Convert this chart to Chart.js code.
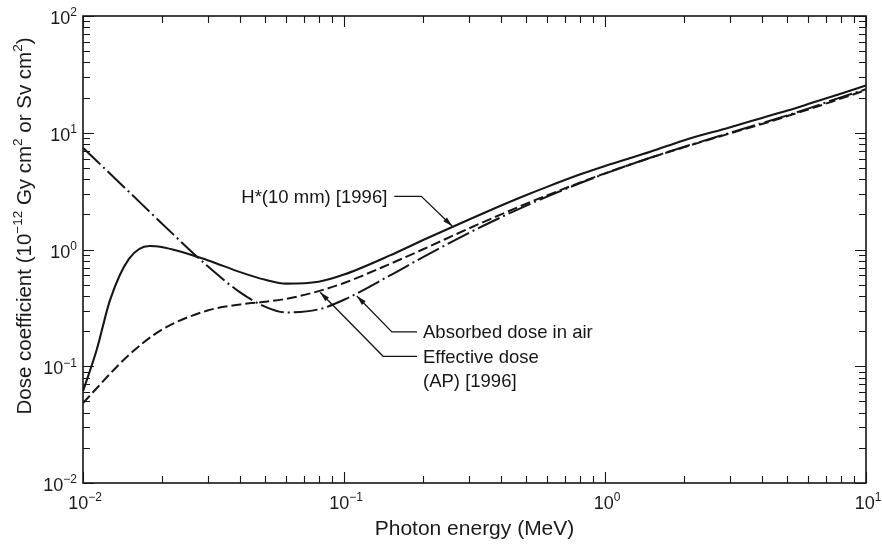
<!DOCTYPE html>
<html><head><meta charset="utf-8">
<script src="https://cdn.jsdelivr.net/npm/chart.js@4/dist/chart.umd.min.js"></script>
<style>html,body{margin:0;padding:0;background:#fff}#wrap{width:882px;height:545px}</style>
</head><body><div id="wrap"><canvas id="c" width="882" height="545"></canvas></div>
<script>
// ---- data ----
const energy = [0.01,0.015,0.02,0.03,0.04,0.05,0.06,0.08,0.1,0.15,0.2,0.3,0.4,0.5,0.6,0.8,1,1.5,2,3,4,5,6,8,10];
const airDose = [7.43,3.12,1.68,0.721,0.429,0.323,0.289,0.307,0.371,0.599,0.856,1.38,1.89,2.38,2.84,3.69,4.47,6.14,7.55,9.96,12.1,14.1,16.1,20.1,23.6];
const effDoseAP = [0.0485,0.125,0.205,0.300,0.338,0.357,0.378,0.440,0.517,0.752,1.00,1.51,2.00,2.47,2.91,3.73,4.49,6.12,7.49,9.85,11.9,13.9,15.8,19.6,23.2];
const hEnergy = [0.01,0.0113,0.0127,0.015,0.018,0.02,0.03,0.04,0.05,0.06,0.08,0.1,0.15,0.2,0.3,0.4,0.5,0.6,0.8,1,1.5,2,3,4,5,6,8,10];
const hStar10 = [0.061,0.14,0.37,0.83,1.07,1.05,0.81,0.64,0.55,0.51,0.53,0.61,0.89,1.20,1.80,2.38,2.93,3.44,4.38,5.20,6.90,8.60,11.1,13.4,15.5,17.6,21.6,25.4];
const xDecades = [-2,-1,0,1];
const yDecades = [-2,-1,0,1,2];
const xTitle = 'Photon energy (MeV)';
const yTitle = [['Dose coefficient (10',0],['\u221212',1],[' Gy cm',0],['2',1],[' or Sv cm',0],['2',1],[')',0]];
// annotation anchors (data coordinates of arrow tips)
const labelHStar = {text:['H*(10 mm) [1996]'], tip:{x:0.26, y:1.58}};
const labelAir = {text:['Absorbed dose in air'], tip:{x:0.112, y:0.40}};
const labelEff = {text:['Effective dose','(AP) [1996]'], tip:{x:0.081, y:0.43}};

const FONT = '"Liberation Sans", Arial, Helvetica, sans-serif';
const INK = '#161616';

function pts(xs, ys){ return xs.map((v,i)=>({x:v, y:ys[i]})); }

function drawRich(ctx, segs, x, y, align, size, supSize){
  let w = 0;
  const ws = segs.map(([t,s])=>{ ctx.font = (s?supSize:size)+'px '+FONT; const m = ctx.measureText(t).width; w += m; return m; });
  let cx = align==='center' ? x - w/2 : (align==='right' ? x - w : x);
  ctx.textBaseline = 'alphabetic'; ctx.textAlign = 'left';
  segs.forEach(([t,s],i)=>{
    ctx.font = (s?supSize:size)+'px '+FONT;
    ctx.fillText(t, cx, s ? y - size*0.42 : y);
    cx += ws[i];
  });
}

function arrowHead(ctx, fx, fy, tx, ty){
  const a = Math.atan2(ty-fy, tx-fx), L = 10, H = 2.6;
  ctx.beginPath();
  ctx.moveTo(tx, ty);
  ctx.lineTo(tx - L*Math.cos(a) + H*Math.sin(a), ty - L*Math.sin(a) - H*Math.cos(a));
  ctx.lineTo(tx - L*Math.cos(a) - H*Math.sin(a), ty - L*Math.sin(a) + H*Math.cos(a));
  ctx.closePath(); ctx.fill();
}

const decor = {
  id:'decor',
  afterDatasetsDraw(chart){
    const ctx = chart.ctx, a = chart.chartArea, xs = chart.scales.x, ys = chart.scales.y;
    ctx.save();
    ctx.strokeStyle = INK; ctx.fillStyle = INK;
    ctx.lineWidth = 1.6;
    ctx.strokeRect(a.left, a.top, a.right-a.left, a.bottom-a.top);
    ctx.lineWidth = 1.1;
    ctx.beginPath();
    xDecades.forEach(d=>{
      for(let m=1;m<=9;m++){
        const v = m*Math.pow(10,d); if (v>10.0001) continue;
        const p = Math.round(xs.getPixelForValue(v))+0.5, L = m===1?11:7;
        ctx.moveTo(p, a.bottom); ctx.lineTo(p, a.bottom-L);
        ctx.moveTo(p, a.top); ctx.lineTo(p, a.top+L);
      }
    });
    yDecades.forEach(d=>{
      for(let m=1;m<=9;m++){
        const v = m*Math.pow(10,d); if (v>100.0001) continue;
        const p = Math.round(ys.getPixelForValue(v))+0.5, L = m===1?11:7;
        ctx.moveTo(a.left, p); ctx.lineTo(a.left+L, p);
        ctx.moveTo(a.right, p); ctx.lineTo(a.right-L, p);
      }
    });
    ctx.stroke();
    ctx.fillStyle = '#1a1a1a';
    xDecades.forEach(d=>{
      const p = xs.getPixelForValue(Math.pow(10,d));
      drawRich(ctx, [['10',0],[d<0?'\u2212'+(-d):String(d),1]], p+2, 509, 'center', 18, 12);
    });
    yDecades.forEach(d=>{
      const p = ys.getPixelForValue(Math.pow(10,d));
      drawRich(ctx, [['10',0],[d<0?'\u2212'+(-d):String(d),1]], a.left-6, p+8, 'right', 18, 12);
    });
    // axis titles
    drawRich(ctx, [[xTitle,0]], (a.left+a.right)/2, 535, 'center', 21, 14);
    ctx.save();
    ctx.translate(31, 226);
    ctx.rotate(-Math.PI/2);
    drawRich(ctx, yTitle, 0, 0, 'center', 20.5, 13.5);
    ctx.restore();
    // annotations
    ctx.lineWidth = 1.3; ctx.strokeStyle = INK; ctx.fillStyle = INK;
    function tipPx(l){ return {x: xs.getPixelForValue(l.tip.x), y: ys.getPixelForValue(l.tip.y)}; }
    let t = tipPx(labelHStar);
    let e = {x:t.x-31, y:t.y-30};
    ctx.beginPath(); ctx.moveTo(e.x-27, e.y); ctx.lineTo(e.x, e.y); ctx.lineTo(t.x, t.y); ctx.stroke();
    arrowHead(ctx, e.x, e.y, t.x, t.y);
    drawRich(ctx, [[labelHStar.text[0],0]], e.x-34, e.y+7, 'right', 18.5, 12);
    t = tipPx(labelAir);
    e = {x:t.x+35, y:t.y+36};
    ctx.beginPath(); ctx.moveTo(t.x, t.y); ctx.lineTo(e.x, e.y); ctx.lineTo(417, e.y); ctx.stroke();
    arrowHead(ctx, e.x, e.y, t.x, t.y);
    drawRich(ctx, [[labelAir.text[0],0]], 423, e.y+6.5, 'left', 18.5, 12);
    t = tipPx(labelEff);
    e = {x:t.x+63, y:t.y+64};
    ctx.beginPath(); ctx.moveTo(t.x, t.y); ctx.lineTo(e.x, e.y); ctx.lineTo(417, e.y); ctx.stroke();
    arrowHead(ctx, e.x, e.y, t.x, t.y);
    drawRich(ctx, [[labelEff.text[0],0]], 423, e.y+6.5, 'left', 18.5, 12);
    drawRich(ctx, [[labelEff.text[1],0]], 423, e.y+30.5, 'left', 18.5, 12);
    ctx.restore();
  }
};

new Chart(document.getElementById('c'), {
  type:'line',
  data:{
    datasets:[
      {label:'H*(10 mm) [1996]', data:pts(hEnergy,hStar10), borderColor:INK, borderWidth:2.1, cubicInterpolationMode:'monotone'},
      {label:'Effective dose (AP) [1996]', data:pts(energy,effDoseAP), borderColor:INK, borderWidth:2, borderDash:[10,4], cubicInterpolationMode:'monotone'},
      {label:'Absorbed dose in air', data:pts(energy,airDose), borderColor:INK, borderWidth:2, borderDash:[24,4,2,4], cubicInterpolationMode:'monotone'}
    ]
  },
  options:{
    responsive:false, animation:false, devicePixelRatio:1,
    layout:{padding:{left:83, top:16, right:16, bottom:62}},
    plugins:{legend:{display:false}, tooltip:{enabled:false}},
    elements:{point:{radius:0, hoverRadius:0}, line:{fill:false}},
    scales:{
      x:{type:'logarithmic', min:0.01, max:10, display:false},
      y:{type:'logarithmic', min:0.01, max:100, display:false}
    }
  },
  plugins:[decor]
});
</script></body></html>
